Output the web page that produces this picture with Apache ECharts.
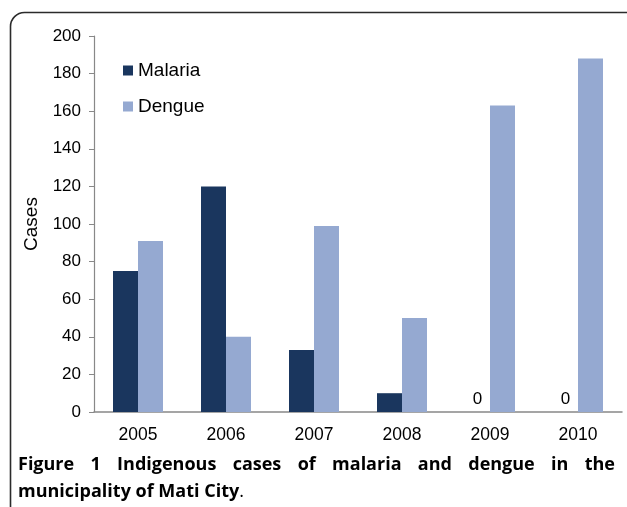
<!DOCTYPE html>
<html>
<head>
<meta charset="utf-8">
<script src="https://cdn.jsdelivr.net/npm/echarts@6/dist/echarts.min.js"></script>
<style>
html,body{margin:0;padding:0;background:#fff;}
#c{width:627px;height:507px;}
</style>
</head>
<body>
<div id="c"></div>
<script>
const categories = ['2005','2006','2007','2008','2009','2010'];
const malaria = [75, 120, 33, 10, 0, 0];
const dengue = [91, 40, 99, 50, 163, 188];
const yTicks = [0, 20, 40, 60, 80, 100, 120, 140, 160, 180, 200];
const captionHead = ['Figure', '1'];
const captionLine1 = ['Indigenous', 'cases', 'of', 'malaria', 'and', 'dengue', 'in', 'the'];
const captionLine2 = 'municipality of Mati City';

const chart = echarts.init(document.getElementById('c'));
const font = '"Liberation Sans", Arial, sans-serif';
const capFont = '"Open Sans", "DejaVu Sans", sans-serif';
const capSize = 18;

// justify caption line 1 to the target width
const ctx = document.createElement('canvas').getContext('2d');
function w(text, weight) { ctx.font = weight + ' ' + capSize + 'px ' + capFont; return ctx.measureText(text).width; }
const lineWidth = 597;
let natural = 0;
captionHead.forEach(t => natural += w(t, 'bold'));
captionLine1.forEach(t => natural += w(t, 'bold'));
const gaps = captionHead.length + captionLine1.length - 1;
const gapW = Math.max(4, (lineWidth - natural) / gaps);
const line1 = captionHead.map(t => '{h|' + t + '}').concat(captionLine1.map(t => '{b|' + t + '}')).join('{s| }');

chart.setOption({
  animation: false,
  backgroundColor: '#fff',
  grid: {left: 94, right: 5, top: 36, bottom: 95, containLabel: false},
  legend: {
    left: 118, top: 56, orient: 'vertical', itemGap: 17,
    itemWidth: 10, itemHeight: 10, icon: 'rect',
    textStyle: {fontFamily: font, fontSize: 19, color: '#000'},
    data: ['Malaria', 'Dengue']
  },
  xAxis: {
    type: 'category', data: categories,
    axisLine: {lineStyle: {color: '#888', width: 1.5}},
    axisTick: {show: false},
    axisLabel: {fontFamily: font, fontSize: 17.5, color: '#000', margin: 14}
  },
  yAxis: {
    type: 'value', min: yTicks[0], max: yTicks[yTicks.length-1], interval: 20,
    name: 'Cases', nameLocation: 'middle', nameGap: 47, nameRotate: 90,
    nameTextStyle: {fontFamily: font, fontSize: 19, color: '#000'},
    axisLine: {show: true, lineStyle: {color: '#888', width: 1.2}},
    axisTick: {show: true, length: 5, lineStyle: {color: '#888'}},
    splitLine: {show: false},
    axisLabel: {fontFamily: font, fontSize: 17, color: '#000', margin: 13}
  },
  series: [
    {
      name: 'Malaria', type: 'bar', barWidth: 25, barGap: '0%',
      itemStyle: {color: '#1a365e'},
      data: malaria.map(v => ({value: v, label: {show: v === 0}})),
      label: {position: 'top', fontFamily: font, fontSize: 17, color: '#000', distance: 4}
    },
    {
      name: 'Dengue', type: 'bar', barWidth: 25,
      itemStyle: {color: '#95a9d1'},
      data: dengue
    }
  ],
  graphic: [
    {
      type: 'rect', z: 100, silent: true,
      shape: {x: 10.5, y: 12.5, width: 630, height: 540, r: 14},
      style: {fill: 'none', stroke: '#2b2b2b', lineWidth: 1.6}
    },
    {
      type: 'text', left: 18, top: 456, z: 100,
      style: {
        text: line1 + '\n{b|' + captionLine2 + '}{n|.}',
        rich: {
          h: {fontFamily: capFont, fontWeight: 'bold', fontSize: capSize, color: '#1a1a1a', lineHeight: 27},
          b: {fontFamily: capFont, fontWeight: 'bold', fontSize: capSize, color: '#2a2a2a', lineHeight: 27},
          s: {fontFamily: capFont, fontSize: capSize, width: gapW, lineHeight: 27},
          n: {fontFamily: capFont, fontWeight: 'normal', fontSize: capSize, color: '#2a2a2a', lineHeight: 27}
        }
      }
    }
  ]
});
</script>
</body>
</html>
